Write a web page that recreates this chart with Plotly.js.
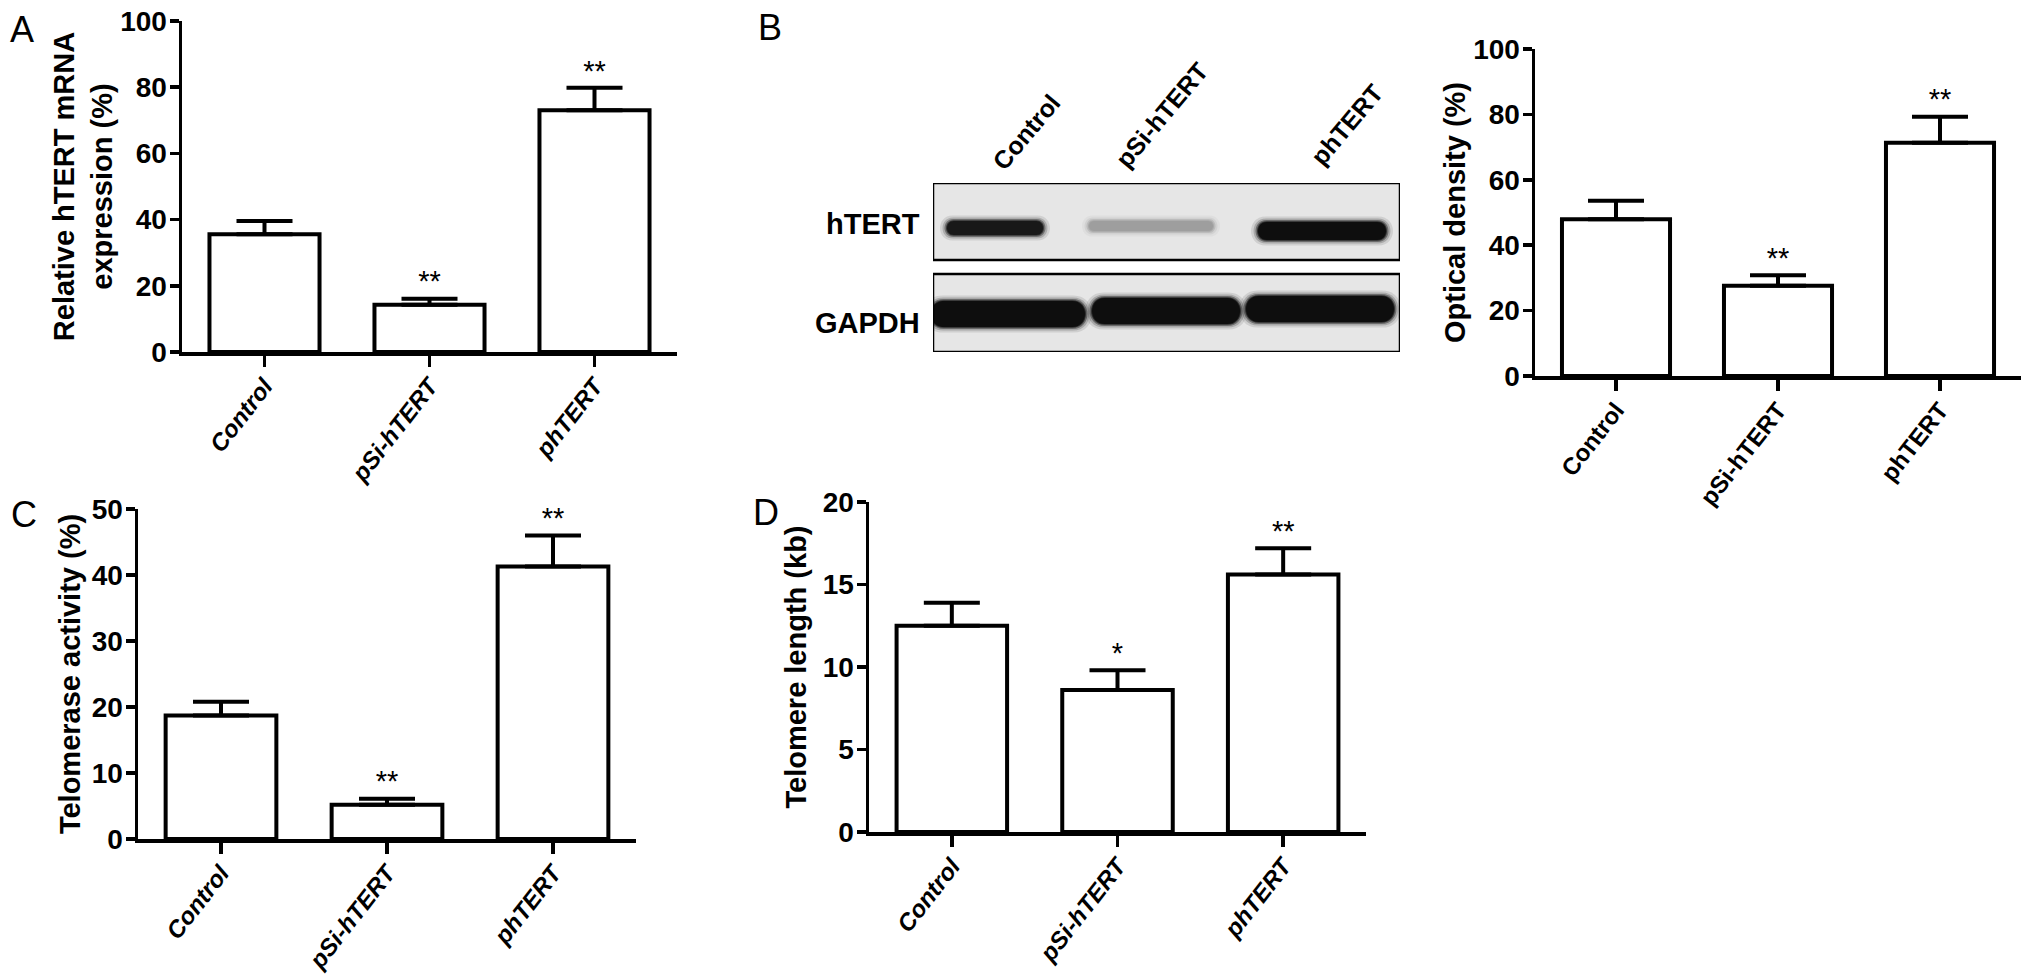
<!DOCTYPE html>
<html>
<head>
<meta charset="utf-8">
<script src="https://cdn.plot.ly/plotly-3.0.1.min.js"></script>
<style>
html, body { margin: 0; padding: 0; background: #ffffff; }
#chart { width: 2031px; height: 976px; }
</style>
</head>
<body>
<div id="chart"></div>
<script>
// ---------------- DATA ----------------
const categories = ['Control', 'pSi-hTERT', 'phTERT'];

const mrnaValues = [35.6, 14.3, 73.0];
const mrnaErrors = [4.0, 1.8, 6.8];
const mrnaSig = ['', '**', '**'];

const odValues = [47.9, 27.6, 71.3];
const odErrors = [5.7, 3.2, 8.0];
const odSig = ['', '**', '**'];

const telomeraseValues = [18.7, 5.2, 41.3];
const telomeraseErrors = [2.1, 0.9, 4.7];
const telomeraseSig = ['', '**', '**'];

const lengthValues = [12.5, 8.6, 15.6];
const lengthErrors = [1.4, 1.2, 1.6];
const lengthSig = ['', '*', '**'];

const blotRows = ['hTERT', 'GAPDH'];
const hTERTBand = [0.95, 0.28, 1.0];   // relative band intensity per lane
const gapdhBand = [1.0, 1.0, 1.0];

// ---------------- LAYOUT HELPERS ----------------
const W = 2031, H = 976;
const FONT = 'Liberation Sans, Arial, Helvetica, sans-serif';
const px = x => x / W;
const py = y => 1 - y / H;

const panels = [
  { key: '',  xr: [182, 677],  yr: [21, 352],  ymax: 100, dtick: 20, values: mrnaValues, errors: mrnaErrors, sig: mrnaSig,
    title: 'Relative hTERT mRNA<br>expression (%)', italic: true, standoff: 0 },
  { key: '2', xr: [1535, 2021], yr: [49, 376], ymax: 100, dtick: 20, values: odValues, errors: odErrors, sig: odSig,
    title: 'Optical density (%)', italic: false, standoff: 0 },
  { key: '3', xr: [138, 636],  yr: [509, 839], ymax: 50, dtick: 10, values: telomeraseValues, errors: telomeraseErrors, sig: telomeraseSig,
    title: 'Telomerase activity (%)', italic: true, standoff: 3 },
  { key: '4', xr: [869, 1366], yr: [502, 832], ymax: 20, dtick: 5, values: lengthValues, errors: lengthErrors, sig: lengthSig,
    title: 'Telomere length (kb)', italic: true, standoff: 8 }
];

const traces = [];
const layout = {
  width: W, height: H,
  margin: { l: 0, r: 0, t: 0, b: 0, pad: 0 },
  paper_bgcolor: '#ffffff', plot_bgcolor: 'rgba(0,0,0,0)',
  showlegend: false,
  font: { family: FONT, color: '#000000' },
  shapes: [], annotations: []
};

panels.forEach(p => {
  const xa = 'x' + p.key, ya = 'y' + p.key;
  traces.push({
    type: 'bar', x: categories, y: p.values, xaxis: xa, yaxis: ya, width: 0.667,
    marker: { color: '#ffffff', line: { color: '#000000', width: 4 } },
    error_y: { type: 'data', symmetric: false, array: p.errors, arrayminus: [0, 0, 0],
               color: '#000000', thickness: 4, width: 28 },
    hoverinfo: 'skip', showlegend: false
  });
  traces.push({
    type: 'scatter', mode: 'text', x: categories,
    y: p.values.map((v, j) => v + p.errors[j]),
    text: p.sig, textposition: 'top center',
    textfont: { family: FONT, size: 29, color: '#000000' },
    xaxis: xa, yaxis: ya, cliponaxis: false, hoverinfo: 'skip', showlegend: false
  });
  layout['xaxis' + p.key] = {
    domain: [px(p.xr[0]), px(p.xr[1])], anchor: ya, type: 'category', range: [-0.5, 2.5],
    showline: true, linewidth: 3.5, linecolor: '#000000',
    ticks: 'outside', ticklen: 11, tickwidth: 3.5, tickcolor: '#000000', tickangle: -52,
    ticklabelstandoff: -4,
    tickfont: { family: FONT, size: 24, weight: 'bold', style: p.italic ? 'italic' : 'normal', color: '#000000' },
    showgrid: false, zeroline: false, fixedrange: true
  };
  layout['yaxis' + p.key] = {
    domain: [py(p.yr[1]), py(p.yr[0])], anchor: xa, range: [0, p.ymax], tick0: 0, dtick: p.dtick,
    showline: true, linewidth: 3.5, linecolor: '#000000',
    ticks: 'outside', ticklen: 9, tickwidth: 3.5, tickcolor: '#000000',
    ticklabelstandoff: -3,
    tickfont: { family: FONT, size: 28, weight: 'bold', color: '#000000' },
    title: { text: p.title, font: { family: FONT, size: 29, weight: 'bold', color: '#000000' }, standoff: p.standoff },
    showgrid: false, zeroline: false, fixedrange: true
  };
});

// ---------------- WESTERN BLOT (panel B) ----------------
const blotX = [933, 1400], blotY = [183, 352];
layout.xaxis5 = { domain: [px(blotX[0]), px(blotX[1])], range: blotX, visible: false, anchor: 'y5', fixedrange: true };
layout.yaxis5 = { domain: [py(blotY[1]), py(blotY[0])], range: [blotY[1], blotY[0]], visible: false, anchor: 'x5', fixedrange: true };
traces.push({ type: 'scatter', mode: 'none', x: [blotX[0], blotX[1]], y: [blotY[0], blotY[1]], xaxis: 'x5', yaxis: 'y5', hoverinfo: 'skip', showlegend: false });

const blotBoxes = [{ y0: 183, y1: 260 }, { y0: 274, y1: 352 }];
const bandGeom = [
  { cx: [995, 1151, 1322], cy: [228, 226, 231], hw: [48, 62, 64], hh: [7, 5, 9] },
  { cx: [1008, 1166, 1320], cy: [314, 311, 309], hw: [77, 74, 74], hh: [13, 13, 13] }
];
const bandData = [hTERTBand, gapdhBand];

function stadium(cx, cy, hw, hh) {
  const k = hh * 0.33;
  return `M${cx - hw + hh},${cy - hh} L${cx + hw - hh},${cy - hh} ` +
         `C${cx + hw + k},${cy - hh} ${cx + hw + k},${cy + hh} ${cx + hw - hh},${cy + hh} ` +
         `L${cx - hw + hh},${cy + hh} ` +
         `C${cx - hw - k},${cy + hh} ${cx - hw - k},${cy - hh} ${cx - hw + hh},${cy - hh} Z`;
}

blotBoxes.forEach(b => {
  layout.shapes.push({ type: 'rect', xref: 'x5', yref: 'y5', x0: blotX[0], x1: blotX[1], y0: b.y0, y1: b.y1,
    fillcolor: '#e6e6e6', line: { width: 0 }, layer: 'below' });
});
bandData.forEach((arr, r) => {
  const g = bandGeom[r];
  arr.forEach((inten, i) => {
    const lvl = Math.round(14 + (1 - inten) * 200);
    const col = `rgb(${lvl},${lvl},${lvl})`;
    [[7, 0.1], [4.5, 0.2], [2.5, 0.4], [1, 0.65], [0, 1]].forEach(([grow, op]) => {
      layout.shapes.push({ type: 'path', xref: 'x5', yref: 'y5',
        path: stadium(g.cx[i], g.cy[i], g.hw[i] + grow, g.hh[i] + grow * 0.8),
        fillcolor: col, opacity: op, line: { width: 0 }, layer: 'above' });
    });
  });
});
blotBoxes.forEach(b => {
  layout.shapes.push({ type: 'rect', xref: 'x5', yref: 'y5', x0: blotX[0], x1: blotX[1], y0: b.y0, y1: b.y1,
    fillcolor: 'rgba(0,0,0,0)', line: { color: '#000000', width: 2.5 }, layer: 'above' });
});

// row labels
const rowLabelY = [224, 323];
blotRows.forEach((t, i) => {
  layout.annotations.push({ text: t, xref: 'paper', yref: 'paper', x: px(922), y: py(rowLabelY[i]),
    xanchor: 'right', yanchor: 'middle', showarrow: false,
    font: { family: FONT, size: 29, weight: 'bold', color: '#000000' } });
});
// lane labels
const laneLabelPos = [[984, 178], [1107, 176], [1303, 173]];
categories.forEach((t, i) => {
  layout.annotations.push({ text: t, xref: 'paper', yref: 'paper', x: px(laneLabelPos[i][0]), y: py(laneLabelPos[i][1]),
    xanchor: 'left', yanchor: 'bottom', textangle: -50, showarrow: false,
    font: { family: FONT, size: 25, weight: 'bold', color: '#000000' } });
});

// panel letters
[['A', 22, 30], ['B', 770, 28], ['C', 24, 514], ['D', 766, 512]].forEach(([t, x, y]) => {
  layout.annotations.push({ text: t, xref: 'paper', yref: 'paper', x: px(x), y: py(y),
    xanchor: 'center', yanchor: 'middle', showarrow: false,
    font: { family: FONT, size: 36, color: '#000000' } });
});

Plotly.newPlot('chart', traces, layout, { displayModeBar: false, staticPlot: true });
</script>
</body>
</html>
